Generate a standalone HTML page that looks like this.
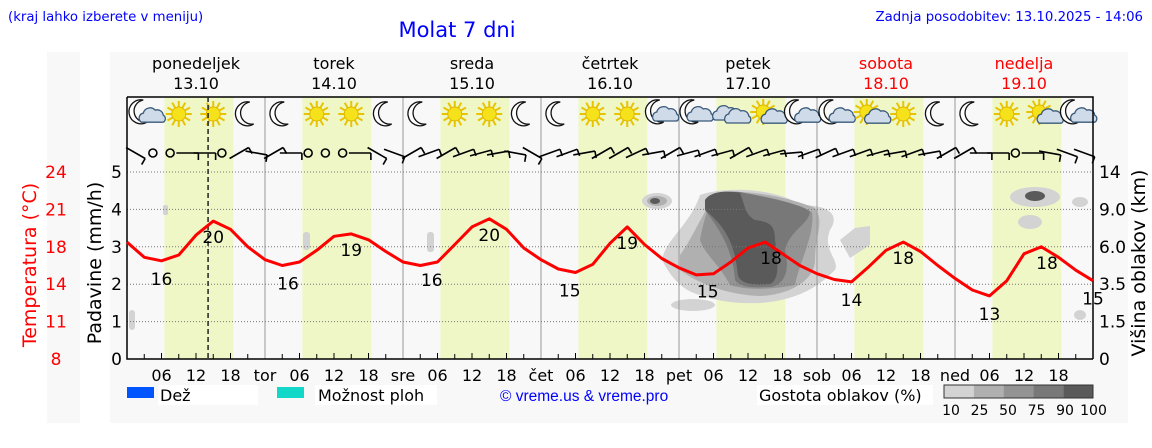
<!DOCTYPE html>
<html><head><meta charset="utf-8"><style>
body{margin:0;background:#fff;width:1152px;height:443px;overflow:hidden;font-family:"Liberation Sans","DejaVu Sans",sans-serif}
svg text{font-family:"DejaVu Sans","Liberation Sans",sans-serif}
</style></head><body>
<svg id="chart" width="1152" height="443" xmlns="http://www.w3.org/2000/svg">
<rect x="47" y="52" width="33" height="371" fill="#f8f8f8"/>
<rect x="110" y="52" width="1018" height="371" fill="#f8f8f8"/>
<text x="8" y="21" font-size="13.3" fill="#0000ff">(kraj lahko izberete v meniju)</text>
<text x="457" y="37" font-size="21" fill="#0000ff" text-anchor="middle">Molat 7 dni</text>
<text x="1143" y="21" font-size="13.3" fill="#0000ff" text-anchor="end">Zadnja posodobitev: 13.10.2025 - 14:06</text>
<g id="bands"></g>
<g id="clouds">
 <g fill="#d3d3d3">
  <path d="M662,260 C665,240 690,225 700,195 C730,185 780,190 800,205 C830,205 840,215 830,230 C822,250 840,260 835,270 C820,285 800,300 760,303 C730,304 715,300 700,295 C680,290 670,275 662,260Z"/>
  <ellipse cx="657" cy="201" rx="15" ry="8"/><ellipse cx="693" cy="305" rx="22" ry="6"/>
  <path d="M840,240 L855,228 L870,226 L870,245 L850,258 Z"/>
  <ellipse cx="1035" cy="197" rx="25" ry="10"/><ellipse cx="1030" cy="222" rx="12" ry="7"/><ellipse cx="1080" cy="202" rx="8" ry="5"/><ellipse cx="1080" cy="315" rx="6" ry="5"/>
  <rect x="427" y="232" width="7" height="20" rx="3"/><rect x="129" y="310" width="6" height="20" rx="3"/><rect x="163" y="205" width="5" height="10" rx="2"/><rect x="303" y="232" width="7" height="18" rx="3"/>
 </g>
 <g fill="#b0b0b0"><path d="M680,255 C695,235 705,205 720,192 C760,190 795,200 815,208 C825,222 815,235 815,260 C815,280 790,295 760,296 C730,295 700,285 680,270Z"/><ellipse cx="657" cy="201" rx="10" ry="5"/></g>
 <g fill="#939393"><path d="M700,240 C705,215 710,195 725,192 C765,193 800,205 812,212 C815,235 800,260 795,285 C770,290 745,290 730,285 C720,265 705,255 700,240Z"/></g>
 <g fill="#787878"><path d="M705,210 C708,195 720,190 740,192 C770,198 805,205 810,212 C808,225 790,230 785,250 C790,270 785,285 770,287 C750,288 740,287 735,280 C733,250 720,230 705,210Z"/></g>
 <g fill="#5a5a5a"><path d="M705,200 C710,192 725,190 740,193 C745,205 745,215 755,220 C770,222 775,225 775,240 C778,260 780,280 770,284 C755,286 740,284 738,275 C735,250 730,230 705,210Z"/><ellipse cx="1035" cy="196" rx="10" ry="5"/><ellipse cx="655" cy="201" rx="5" ry="3"/></g>
</g>
<g id="grid"></g>
<g id="icons"></g>
<g id="wind"></g>
<g id="axes"></g>
<path id="temp-line" fill="none" stroke="#ff0000" stroke-width="3" stroke-linejoin="round"/>
<g id="temp-labels"></g>
<g>
 <rect x="127" y="387" width="27" height="11" fill="#0055ff"/>
 <rect x="158" y="385" width="100" height="20" fill="#fff"/>
 <text x="160" y="401" font-size="16">Dež</text>
 <rect x="277" y="387" width="27" height="11" fill="#11d8c8"/>
 <rect x="315" y="385" width="122" height="20" fill="#fff"/>
 <text x="318" y="401" font-size="16">Možnost ploh</text>
 <text x="500" y="401" font-size="15.5" fill="#0000ff" style="font-family:'Liberation Sans',sans-serif">© vreme.us &amp; vreme.pro</text>
 <rect x="757" y="385" width="176" height="20" fill="#fff"/>
 <text x="759" y="401" font-size="16">Gostota oblakov (%)</text>
 <g id="cbar"></g>
</g>
<text transform="translate(36,265) rotate(-90)" font-size="19" fill="#ff0000" text-anchor="middle">Temperatura (°C)</text>
<text transform="translate(101,263) rotate(-90)" font-size="19" text-anchor="middle">Padavine (mm/h)</text>
<text transform="translate(1145,263) rotate(-90)" font-size="19" text-anchor="middle">Višina oblakov (km)</text>
</svg>
<script>
const dayNames=["ponedeljek","torek","sreda","četrtek","petek","sobota","nedelja"];
const dayDates=["13.10","14.10","15.10","16.10","17.10","18.10","19.10"];
const dayAbbr=["","tor","sre","čet","pet","sob","ned"];
const tempValues=[18.0,16.7,16.4,16.9,18.6,19.8,19.1,17.6,16.5,16.0,16.3,17.3,18.5,18.7,18.2,17.2,16.3,16.0,16.3,17.8,19.3,20.0,19.1,17.5,16.5,15.7,15.4,16.1,17.9,19.3,17.8,16.6,15.8,15.2,15.3,16.3,17.5,18.0,17.0,16.0,15.3,14.8,14.6,15.9,17.3,18.0,17.2,16.0,14.9,13.9,13.4,14.7,17.0,17.6,16.7,15.6,14.7];
const tempLabelHours=[6,15,28,39,53,63,77,87,101,112,126,135,150,160,168];
const tempLabelTexts=["16","20","16","19","16","20","15","19","15","18","14","18","13","18","15"];
const tempLabelOffsets=[-1,1,-1,1,-1,1,-1,1,-1,1,-1,1,-1,1,-1];
const precipTicks=[0,1,2,3,4,5];
const cloudTicks=["0","1.5","3.5","6.0","9.0","14"];
const tempTicks=["8","11","14","18","21","24"];
const iconTypes=["mc","s","s","m","m","s","s","m","m","s","s","m","m","s","s","c","c","cc","sc","mc","mc","sc","s","m","m","s","sc","mc"];
const windDirs=[120,-1,-1,90,90,-1,60,100,60,90,-1,-1,-1,90,120,110,60,70,60,70,75,80,100,120,70,70,80,60,60,65,80,60,75,70,75,60,70,75,85,70,65,70,70,75,80,70,80,60,60,90,90,-1,90,100,110,110];
const cbarColors=["#d3d3d3","#b0b0b0","#939393","#787878","#5a5a5a"];
const cbarLabels=["10","25","50","75","90","100"];
const NS="http://www.w3.org/2000/svg";
const X0=127,X1=1093,YB=359,YT=172,YF=97;
const xH=h=>X0+h*(X1-X0)/168;
const yP=v=>YB-v*(YB-YT)/5;
const yT=t=>YB-(t-8)*(YB-YT)/16;
function el(tag,attrs,parent,txt){const e=document.createElementNS(NS,tag);for(const k in attrs)e.setAttribute(k,attrs[k]);if(txt!==undefined)e.textContent=txt;parent.appendChild(e);return e;}
const bands=document.getElementById('bands'),grid=document.getElementById('grid'),axes=document.getElementById('axes');
for(let d=0;d<7;d++){
 const b=el('rect',{x:xH(d*24+6.5),y:YF,width:xH(18.5)-xH(6.5),height:YB-YF,fill:"#eff7c7"},bands);
 
 
 const col=d>=5?"#ff0000":"#000";
 const n=el('text',{x:xH(d*24+12),y:69,"font-size":16,"text-anchor":"middle",fill:col},axes,dayNames[d]);
 
 
 const dt=el('text',{x:xH(d*24+12),y:89,"font-size":16,"text-anchor":"middle",fill:col},axes,dayDates[d]);
 
 
 if(d>0){const l=el('line',{x1:xH(d*24),x2:xH(d*24),y1:YF,y2:YB,stroke:"#999","stroke-width":1},grid);
 
 
 const a=el('text',{x:xH(d*24),y:381,"font-size":16,"text-anchor":"middle"},axes,dayAbbr[d]);
 
 }
 ["06","12","18"].forEach((s,i)=>{const t=el('text',{x:xH(d*24+6*(i+1)),y:381,"font-size":16,"text-anchor":"middle"},axes,s);
 
 });
 for(let k=1;k<8;k++){el('line',{x1:xH(d*24+3*k),x2:xH(d*24+3*k),y1:YB,y2:YB-(k%2?5:6),stroke:"#000"},axes);}
}
precipTicks.forEach((v,i)=>{
 if(v>0){const g=el('line',{x1:X0,x2:X1,y1:yP(v),y2:yP(v),stroke:"#777","stroke-dasharray":"1,2"},grid);
 
 }
 const a=el('text',{x:122,y:yP(v)+6,"font-size":17,"text-anchor":"end"},axes,String(v));
 
 
 const c=el('text',{x:1099,y:yP(v)+6,"font-size":17},axes,cloudTicks[i]);
 
 
 const t=el('text',{x:56,y:yP(v)+6,"font-size":17,"text-anchor":"middle",fill:"#ff0000"},axes,tempTicks[i]);
 
 
});
el('path',{d:`M${X0},${YF}H${X1}V${YB}M${X0},${YF}V${YB}H${X1}`,fill:"none",stroke:"#000","stroke-width":1.5},axes);
const now=el('line',{x1:xH(14.1),x2:xH(14.1),y1:YF,y2:YB,stroke:"#222","stroke-width":1.5,"stroke-dasharray":"5,3"},axes);


let d="";tempValues.forEach((t,i)=>{d+=(i?"L":"M")+xH(i*3).toFixed(1)+","+yT(t).toFixed(1);});
document.getElementById('temp-line').setAttribute('d',d);
const tl=document.getElementById('temp-labels');
tempLabelHours.forEach((h,i)=>{
 const v=tempValues[Math.round(h/3)];
 const yy=yT(v)+(tempLabelOffsets[i]<0?24:22);
 const t=el('text',{x:Math.min(xH(h),1093),y:yy,"font-size":17,"text-anchor":"middle"},tl,tempLabelTexts[i]);
 
 
});
const ic=document.getElementById('icons');
function moon(g,cx,cy){el('path',{d:`M${cx+2},${cy-12} A12,12 0 1,0 ${cx+6},${cy+10} A10,10 0 0,1 ${cx+2},${cy-12}Z`,fill:"#fff",stroke:"#111","stroke-width":1.3},g);}
function sun(g,cx,cy){for(let k=0;k<12;k++){const a=k*Math.PI/6;el('line',{x1:cx+7*Math.cos(a),y1:cy+7*Math.sin(a),x2:cx+13*Math.cos(a),y2:cy+13*Math.sin(a),stroke:"#e8c400","stroke-width":2},g);}el('circle',{cx,cy,r:7,fill:"#f5e21a",stroke:"#e0b800"},g);}
function cloud(g,cx,cy,s){el('path',{d:`M${cx-10*s},${cy+6*s} a5,5 0 0,1 2,-9 a7,7 0 0,1 12,-3 a6,6 0 0,1 8,5 a4,4 0 0,1 0,7Z`,fill:"#cfdbe8",stroke:"#3a5a7a","stroke-width":1.3},g);}
iconTypes.forEach((t,i)=>{
 const cx=xH(3+6*i),cy=114;
 const g=el('g',{},ic);
 
 
 if(t==="m")moon(g,cx,cy);
 else if(t==="s")sun(g,cx,cy);
 else if(t==="mc"){moon(g,cx-3,cy-2);cloud(g,cx+4,cy+4,0.7);}
 else if(t==="sc"){sun(g,cx-2,cy-2);cloud(g,cx+5,cy+5,0.7);}
 else if(t==="c"){moon(g,cx-4,cy-2);cloud(g,cx+3,cy+1,1);}
 else {cloud(g,cx-6,cy,1);cloud(g,cx+6,cy+3,1);}
});
const w=document.getElementById('wind');
windDirs.forEach((a,i)=>{
 const cx=xH(1.5+3*i),cy=153;
 const g=el('g',{stroke:"#000","stroke-width":1.6,fill:"none"},w);
 
 
 if(a<0){el('circle',{cx,cy,r:4},g);return;}
 const r=a*Math.PI/180,L=11;
 const ex=cx+L*Math.sin(r),ey=cy-L*Math.cos(r);
 el('line',{x1:cx-L*Math.sin(r),y1:cy+L*Math.cos(r),x2:ex,y2:ey},g);
 el('line',{x1:ex,y1:ey,x2:ex+7*Math.cos(r),y2:ey+7*Math.sin(r)},g);
});
const cb=document.getElementById('cbar');
cbarColors.forEach((c,i)=>{const r=el('rect',{x:944+i*29.8,y:385,width:29.8,height:13,fill:c},cb);
 
 });
el('rect',{x:944,y:385,width:149,height:13,fill:"none",stroke:"#333"},cb);
cbarLabels.forEach((s,i)=>{const t=el('text',{x:951+i*28.5,y:415,"font-size":14,"text-anchor":"middle"},cb,s);
 
 });
</script>
</body></html>
